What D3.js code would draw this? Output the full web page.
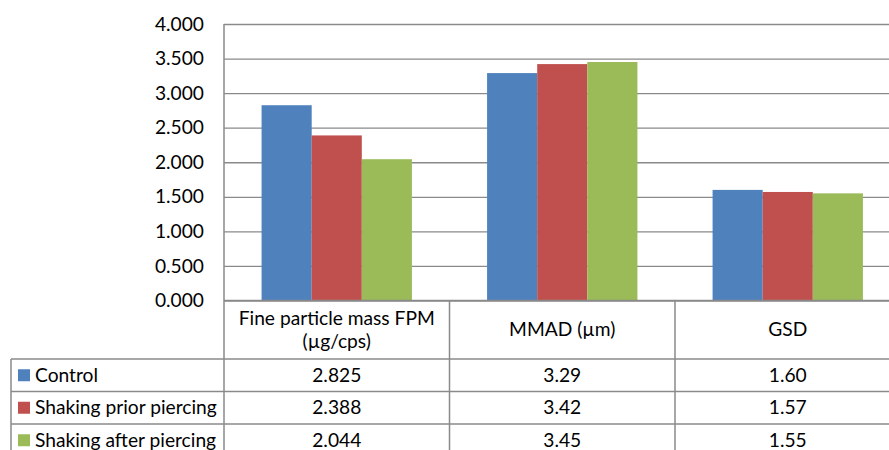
<!DOCTYPE html>
<html>
<head>
<meta charset="utf-8">
<script src="https://cdn.jsdelivr.net/npm/d3@7"></script>
<style>
  html, body { margin: 0; padding: 0; background: #fff; overflow: hidden; }
  svg { display: block; }
  text { font-family: Lato, "Open Sans", sans-serif; fill: #000; }
</style>
</head>
<body>
<svg id="chart" width="889" height="450"></svg>
<script>
// ---- data ----
const categories = [["Fine particle mass FPM", "(µg/cps)"], ["MMAD (µm)"], ["GSD"]];
const seriesNames = ["Control", "Shaking prior piercing", "Shaking after piercing"];
const control = [2.825, 3.29, 1.60];
const shakingPrior = [2.388, 3.42, 1.57];
const shakingAfter = [2.044, 3.45, 1.55];
const tableDecimals = [3, 2, 2];
const yTicks = [0, 0.5, 1, 1.5, 2, 2.5, 3, 3.5, 4];
const colors = ["#4F81BD", "#C0504D", "#9BBB59"];

const seriesValues = [control, shakingPrior, shakingAfter];

// ---- layout ----
const svg = d3.select("#chart");
const FS = 19.2;
const plotLeft = 224, plotTop = 24, plotBottom = 300.5, bandW = 225.5;
const tableTop = 300.5, headerBottom = 359, rowH = 32.5, tableLeft = 11;
const gridColor = "#8a8a8a";

const catIdx = categories.map((c, i) => i);
const x0 = d3.scaleBand().domain(catIdx).range([plotLeft, plotLeft + bandW * categories.length]).padding(0);
const x1 = d3.scaleBand().domain(seriesNames)
  .range([x0.bandwidth() / 6, x0.bandwidth() * 5 / 6]).padding(0);
const y = d3.scaleLinear().domain([0, 4]).range([plotBottom, plotTop]);

// gridlines + y axis labels
const yAxis = d3.axisLeft(y).tickValues(yTicks).tickFormat(d3.format(".3f"))
  .tickSize(-(889 - plotLeft)).tickPadding(20);
const gAxis = svg.append("g").attr("transform", `translate(${plotLeft},0)`).call(yAxis);
gAxis.select(".domain").remove();
gAxis.selectAll(".tick line").attr("stroke", gridColor).attr("stroke-width", 1.3);
gAxis.selectAll(".tick text").attr("font-size", FS).attr("font-family", "Lato, sans-serif").attr("fill", "#000");

// bars
const groups = svg.append("g").selectAll("g")
  .data(catIdx).join("g")
  .attr("transform", i => `translate(${x0(i)},0)`);
groups.selectAll("rect")
  .data(i => seriesNames.map((s, k) => ({ s, k, v: seriesValues[k][i] })))
  .join("rect")
  .attr("x", d => x1(d.s))
  .attr("width", x1.bandwidth())
  .attr("y", d => y(d.v))
  .attr("height", d => y(0) - y(d.v))
  .attr("fill", d => colors[d.k]);

// ---- data table ----
const lines = svg.append("g").attr("stroke", gridColor).attr("stroke-width", 1.5).attr("fill", "none");
lines.append("line").attr("x1", plotLeft).attr("x2", plotLeft).attr("y1", plotTop).attr("y2", 450);
lines.append("line").attr("x1", plotLeft).attr("x2", 889).attr("y1", tableTop).attr("y2", tableTop);
const rowLinesY = [headerBottom, headerBottom + rowH, headerBottom + 2 * rowH];
rowLinesY.forEach(yy => lines.append("line").attr("x1", tableLeft).attr("x2", 889).attr("y1", yy).attr("y2", yy));
lines.append("line").attr("x1", tableLeft).attr("x2", tableLeft).attr("y1", headerBottom).attr("y2", 450);
catIdx.slice(1).forEach(i => lines.append("line")
  .attr("x1", x0(i)).attr("x2", x0(i)).attr("y1", tableTop).attr("y2", 450));

// header labels
const header = svg.append("g");
catIdx.forEach(i => {
  const cx = x0(i) + x0.bandwidth() / 2;
  const lns = categories[i];
  const lh = 23;
  const cy = (tableTop + headerBottom) / 2;
  lns.forEach((t, j) => {
    header.append("text")
      .attr("x", cx)
      .attr("y", cy + (j - (lns.length - 1) / 2) * lh)
      .attr("dy", "0.35em")
      .attr("text-anchor", "middle")
      .attr("font-size", FS)
      .text(t);
  });
});

// rows
const rows = svg.append("g");
seriesNames.forEach((s, k) => {
  const cy = headerBottom + k * rowH + rowH / 2;
  rows.append("rect").attr("x", 18).attr("y", cy - 6).attr("width", 12).attr("height", 12).attr("fill", colors[k]);
  rows.append("text").attr("x", 35).attr("y", cy).attr("dy", "0.35em")
    .attr("font-size", FS).text(s);
  catIdx.forEach(i => {
    rows.append("text")
      .attr("x", x0(i) + x0.bandwidth() / 2)
      .attr("y", cy).attr("dy", "0.35em")
      .attr("text-anchor", "middle")
      .attr("font-size", FS)
      .text(d3.format(`.${tableDecimals[i]}f`)(seriesValues[k][i]));
  });
});
</script>
</body>
</html>
